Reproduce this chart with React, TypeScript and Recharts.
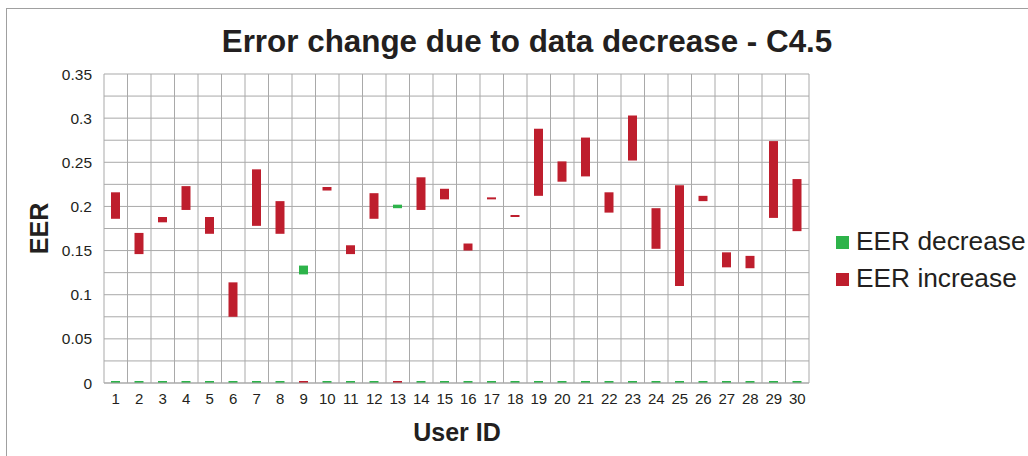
import React from "react";
import { BarChart, Bar, XAxis, YAxis, CartesianGrid } from "recharts";

const users = ["1","2","3","4","5","6","7","8","9","10","11","12","13","14","15","16","17","18","19","20","21","22","23","24","25","26","27","28","29","30"];
// EER range for users whose error decreased (others 0)
const decreaseLow =  [0,0,0,0,0,0,0,0,0.123,0,0,0,0.198,0,0,0,0,0,0,0,0,0,0,0,0,0,0,0,0,0];
const decreaseHigh = [0,0,0,0,0,0,0,0,0.133,0,0,0,0.202,0,0,0,0,0,0,0,0,0,0,0,0,0,0,0,0,0];
// EER range for users whose error increased (others 0)
const increaseLow =  [0.186,0.146,0.182,0.196,0.169,0.075,0.178,0.169,0,0.218,0.146,0.186,0,0.196,0.208,0.150,0.208,0.188,0.212,0.228,0.234,0.193,0.252,0.152,0.110,0.206,0.131,0.130,0.187,0.172];
const increaseHigh = [0.216,0.170,0.188,0.223,0.188,0.114,0.242,0.206,0,0.222,0.156,0.215,0,0.233,0.220,0.158,0.210,0.190,0.288,0.251,0.278,0.216,0.303,0.198,0.224,0.212,0.148,0.144,0.274,0.231];

const yTicks = [0,0.025,0.05,0.075,0.1,0.125,0.15,0.175,0.2,0.225,0.25,0.275,0.3,0.325,0.35];
const yTickLabels = ["0","","0.05","","0.1","","0.15","","0.2","","0.25","","0.3","","0.35"];

const title = "Error change due to data decrease - C4.5";
const xTitle = "User ID";
const yTitle = "EER";
const seriesNames = ["EER decrease", "EER increase"];
const colors = ["#2db34a", "#be1e2d"];

const data = users.map((u, i) => ({
  user: u,
  dec: [decreaseLow[i], decreaseHigh[i]],
  inc: [increaseLow[i], increaseHigh[i]],
}));

const FONT = "'Liberation Sans', Arial, sans-serif";
const TEXT = "#231f20";
const GRID = "#a9a9a9";

export default function App() {
  return (
    <div style={{ position: "absolute", left: 0, top: 0, width: 1028, height: 456, background: "#fff", overflow: "hidden", fontFamily: FONT }}>
      <div style={{ position: "absolute", left: 6, top: 8, width: 1040, height: 460, borderLeft: "1.5px solid #a0a0a0", borderTop: "1.5px solid #a0a0a0" }} />
      <div style={{ position: "absolute", left: 0, top: 0 }}>
        <BarChart
          width={1028}
          height={456}
          data={data}
          margin={{ top: 74, right: 219, bottom: 0, left: 30 }}
          barSize={9}
          barGap={-9}
        >
          <CartesianGrid
            stroke={GRID}
            strokeWidth={1}
            verticalCoordinatesGenerator={({ offset }: any) =>
              Array.from({ length: 31 }, (_, i) => offset.left + (i * offset.width) / 30)
            }
          />
          <XAxis
            dataKey="user"
            interval={0}
            tickLine={false}
            axisLine={{ stroke: GRID }}
            tickMargin={4}
            height={73}
            tick={{ fill: TEXT, fontSize: 15, fontFamily: FONT }}
          />
          <YAxis
            domain={[0, 0.35]}
            ticks={yTicks}
            interval={0}
            width={74}
            tickLine={false}
            axisLine={false}
            tickMargin={6}
            tickFormatter={(_v: number, i: number) => yTickLabels[i]}
            tick={{ fill: TEXT, fontSize: 15.5, fontFamily: FONT }}
          />
          <Bar dataKey="dec" fill={colors[0]} minPointSize={2} isAnimationActive={false} />
          <Bar dataKey="inc" fill={colors[1]} minPointSize={2} isAnimationActive={false} />
        </BarChart>
      </div>
      <svg width={1028} height={456} style={{ position: "absolute", left: 0, top: 0, pointerEvents: "none" }}>
        <text x={527} y={52} textAnchor="middle" fontSize={31.4} fontWeight="bold" fill={TEXT} fontFamily={FONT}>{title}</text>
        <text x={457} y={441} textAnchor="middle" fontSize={25} fontWeight="bold" fill={TEXT} fontFamily={FONT}>{xTitle}</text>
        <text x={48} y={228.5} textAnchor="middle" fontSize={25} fontWeight="bold" fill={TEXT} fontFamily={FONT} transform="rotate(-90 48 228.5)">{yTitle}</text>
        <rect x={836} y={236} width={13} height={13} fill={colors[0]} />
        <text x={856} y={250} fontSize={26.3} fill={TEXT} fontFamily={FONT}>{seriesNames[0]}</text>
        <rect x={836} y={273} width={13} height={13} fill={colors[1]} />
        <text x={856} y={287} fontSize={26.3} fill={TEXT} fontFamily={FONT}>{seriesNames[1]}</text>
      </svg>
    </div>
  );
}
